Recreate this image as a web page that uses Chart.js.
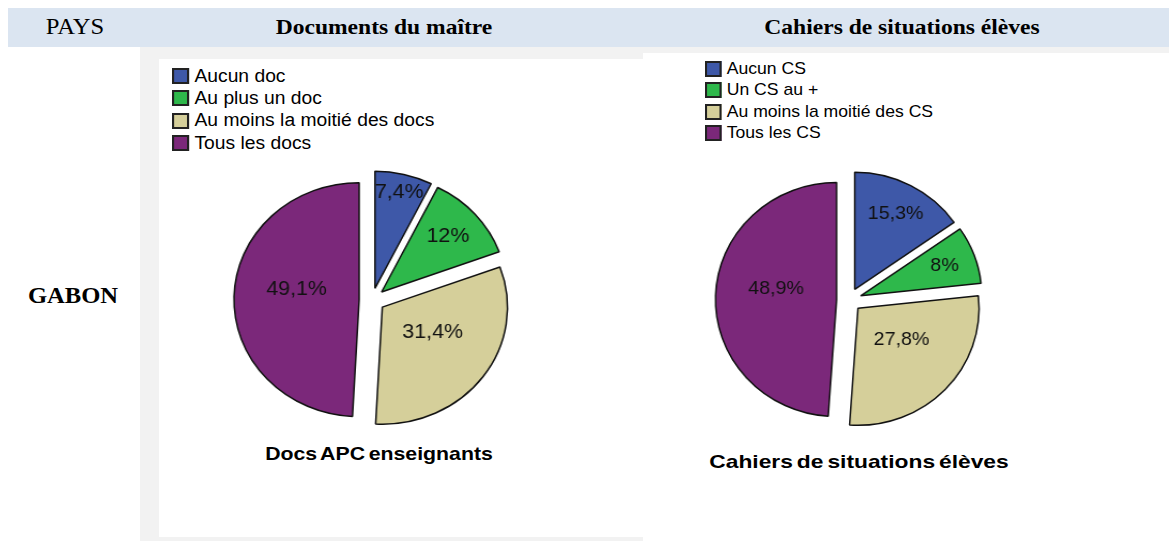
<!DOCTYPE html>
<html>
<head>
<meta charset="utf-8">
<script src="https://cdn.jsdelivr.net/npm/chart.js@4/dist/chart.umd.min.js"></script>
<style>
  body { margin: 0; background: #fff; }
  #page { position: relative; width: 1169px; height: 541px; overflow: hidden; background: #fff; }
  .abs { position: absolute; }
  .hdr { left: 8px; top: 8px; width: 1161px; height: 39px; background: #dbe5f1; }
  .serif { font-family: "Liberation Serif", "Times New Roman", serif; font-size: 22px; color: #000; white-space: nowrap; text-align: center; line-height: 24px; transform: scaleX(1.07); }
  .grey { left: 140px; top: 47px; width: 1029px; height: 494px; background: #f2f2f2; }
  .panel { background: #fff; }
  .legend { font-family: "Liberation Sans", Arial, sans-serif; color: #000; transform-origin: left top; white-space: nowrap; }
  .legend .item { display: flex; align-items: center; }
  .legend .box { display: inline-block; width: 12px; height: 12px; border: 2px solid #222; margin-right: 5px; }
  .ttl { font-family: "Liberation Sans", Arial, sans-serif; font-weight: bold; font-size: 19px; line-height: 22px; text-align: center; white-space: nowrap; word-spacing: -2px; }
  canvas { position: absolute; }
</style>
</head>
<body>
<div id="page">
  <div class="abs hdr"></div>
  <div class="abs serif" style="left:25px; top:15px; width:100px; font-size:23px;">PAYS</div>
  <div class="abs serif" style="left:234px; top:15px; width:300px; font-weight:bold;">Documents du maître</div>
  <div class="abs serif" style="left:752px; top:15px; width:300px; font-weight:bold;">Cahiers de situations élèves</div>
  <div class="abs grey"></div>
  <div class="abs panel" style="left:159px; top:59px; width:486px; height:478px;"></div>
  <div class="abs panel" style="left:643px; top:53px; width:526px; height:488px;"></div>
  <div class="abs serif" style="left:23px; top:284px; width:100px; font-weight:bold; font-size:23px;">GABON</div>

  <div id="legendDocs" class="abs legend" style="left:172px; top:65px; font-size:18px; transform:scaleX(1.07);"></div>
  <div id="legendCs" class="abs legend" style="left:705px; top:58px; font-size:17px; transform:scaleX(1.035);"></div>

  <canvas id="pieDocs" width="300" height="280" style="left:222px; top:160px; transform:scaleX(1.07);"></canvas>
  <canvas id="pieCs" width="300" height="280" style="left:699px; top:160px; transform:scaleX(1.035);"></canvas>

  <div class="abs ttl" style="left:179px; top:443px; width:400px; transform:scaleX(1.12);">Docs APC enseignants</div>
  <div class="abs ttl" style="left:659px; top:451px; width:400px; transform:scaleX(1.2);">Cahiers de situations élèves</div>
</div>

<script>
const docLabels = ['Aucun doc', 'Au plus un doc', 'Au moins la moitié des docs', 'Tous les docs'];
const docValues = [7.4, 12, 31.4, 49.1];

const csLabels = ['Aucun CS', 'Un CS au +', 'Au moins la moitié des CS', 'Tous les CS'];
const csValues = [15.3, 8, 27.8, 48.9];

const sliceColors = ['#3e58a8', '#2eb84b', '#d5cf9a', '#7b287a'];

function fmt(v) {
    return String(v).replace('.', ',') + '%';
}

// exploded pie: every slice moved out along its middle angle, radius unchanged
const pullSlices = {
    id: 'pullSlices',
    beforeDatasetDraw(chart, args, opts) {
        const ctx = chart.ctx;
        args.meta.data.forEach(arc => {
            const mid = (arc.startAngle + arc.endAngle) / 2;
            ctx.save();
            ctx.translate(Math.cos(mid) * opts.pull, Math.sin(mid) * opts.pull);
            arc.draw(ctx);
            ctx.restore();
        });
        return false;
    }
};

const sliceLabels = {
    id: 'sliceLabels',
    afterDatasetsDraw(chart, args, opts) {
        const ctx = chart.ctx;
        const data = chart.data.datasets[0].data;
        const pull = chart.options.plugins.pullSlices.pull;
        chart.getDatasetMeta(0).data.forEach((arc, i) => {
            const p = arc.getProps(['x', 'y', 'startAngle', 'endAngle', 'outerRadius'], true);
            const mid = (p.startAngle + p.endAngle) / 2;
            const k = opts.radius[i];
            const d = pull + k * p.outerRadius;
            const lift = k < 0.6 ? 9 : 0;
            ctx.save();
            ctx.font = opts.font;
            ctx.fillStyle = '#111';
            ctx.textAlign = 'center';
            ctx.textBaseline = 'middle';
            ctx.fillText(fmt(data[i]), p.x + Math.cos(mid) * d, p.y + Math.sin(mid) * d - lift);
            ctx.restore();
        });
    }
};

function buildLegend(el, labels, pitch) {
    el.innerHTML = '';
    labels.forEach((lab, i) => {
        const row = document.createElement('div');
        row.className = 'item';
        row.style.height = pitch + 'px';
        row.innerHTML = `<span class="box" style="background:${sliceColors[i]}"></span><span>${lab}</span>`;
        el.appendChild(row);
    });
}

function makePie(canvasId, labels, values, font, labelRadius) {
    return new Chart(document.getElementById(canvasId), {
        type: 'pie',
        data: {
            labels,
            datasets: [{
                data: values,
                backgroundColor: sliceColors,
                borderColor: '#111',
                borderWidth: 1.5
            }]
        },
        options: {
            responsive: false,
            animation: false,
            devicePixelRatio: 1,
            radius: 117,
            layout: { padding: 0 },
            plugins: {
                legend: { display: false },
                tooltip: { enabled: false },
                pullSlices: { pull: 12 },
                sliceLabels: { font, radius: labelRadius }
            }
        },
        plugins: [pullSlices, sliceLabels]
    });
}

buildLegend(document.getElementById('legendDocs'), docLabels, 22.3);
buildLegend(document.getElementById('legendCs'), csLabels, 21.5);

makePie('pieDocs', docLabels, docValues, '20px "Liberation Sans", Arial, sans-serif', [0.84, 0.71, 0.5, 0.5]);
makePie('pieCs', csLabels, csValues, '19px "Liberation Sans", Arial, sans-serif', [0.73, 0.74, 0.5, 0.5]);
</script>
</body>
</html>
